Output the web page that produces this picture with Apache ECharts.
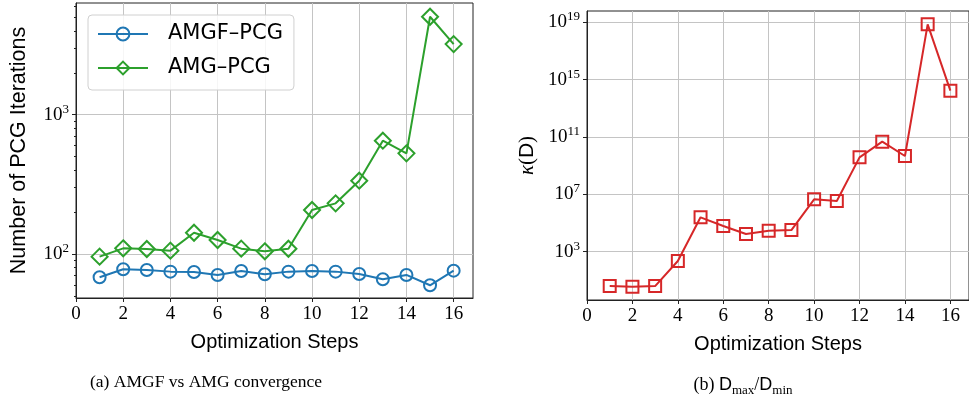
<!DOCTYPE html>
<html>
<head>
<meta charset="utf-8">
<script src="https://cdn.jsdelivr.net/npm/echarts@6/dist/echarts.min.js"></script>
<style>
html,body{margin:0;padding:0;background:#fff;}
#chart{width:969px;height:402px;}
</style>
</head>
<body>
<div id="chart"></div>
<script>
// ---- data ----
var steps = [1, 2, 3, 4, 5, 6, 7, 8, 9, 10, 11, 12, 13, 14, 15, 16];
var amgfPcg = [68, 77.6, 76.7, 74.7, 74.3, 70.7, 75.5, 71.5, 74.7, 75.5, 74.7, 71.8, 65.8, 70.7, 59.6, 75.9];
var amgPcg = [95.7, 109.8, 108.6, 105.7, 142, 126, 109.2, 104.5, 109, 207, 231, 336, 651, 528, 5050, 3214];
var kappaD = [4.0, 3.6, 4.0, 223, 2.5e5, 6.2e4, 1.7e4, 2.9e4, 3.2e4, 4.5e6, 3.4e6, 3.8e9, 4.7e10, 4.7e9, 7.2e18, 1.7e14];
var xTicks = [0, 2, 4, 6, 8, 10, 12, 14, 16];
var leftYTicks = [100, 1000];
var leftYMinor = [50, 60, 70, 80, 90, 200, 300, 400, 500, 600, 700, 800, 900, 2000, 3000, 4000, 5000, 6000];
var rightYTicks = [1e3, 1e7, 1e11, 1e15, 1e19];
var seriesNames = ['AMGF\u2013PCG', 'AMG\u2013PCG'];

var serifF = "'Liberation Serif', 'DejaVu Serif', serif";
var sansF = "'Liberation Sans', 'DejaVu Sans', sans-serif";
var legF = "'DejaVu Sans', sans-serif";
var BLUE = '#1f77b4', GREEN = '#2ca02c', RED = '#d62728';
var gridColor = '#c4c4c4';

function pairs(vals) { return steps.map(function (s, i) { return [s, vals[i]]; }); }
function powLabel(v) { return '{b|10}{s|' + Math.round(Math.log10(v)) + '}'; }
var powRich = {
  b: { fontFamily: serifF, fontSize: 19, color: '#000', lineHeight: 24, verticalAlign: 'middle' },
  s: { fontFamily: serifF, fontSize: 13, color: '#000', lineHeight: 13, verticalAlign: 'top' }
};

function xAxisDef(gi) {
  return {
    type: 'value', gridIndex: gi, min: 0, max: 16.82,
    axisLine: { show: true, onZero: false, lineStyle: { color: '#222', width: 1 } },
    axisTick: { show: true, length: 4, customValues: xTicks, lineStyle: { color: '#222', width: 1 } },
    axisLabel: { customValues: xTicks, fontFamily: serifF, fontSize: 19, color: '#000', margin: 7 },
    splitLine: { show: true, lineStyle: { color: gridColor, width: 1 } },
    name: 'Optimization Steps', nameLocation: 'middle', nameGap: 34,
    nameTextStyle: { fontFamily: sansF, fontSize: 20, color: '#000' }
  };
}

var option = {
  animation: false,
  backgroundColor: '#fff',
  grid: [
    { left: 76, top: 3, width: 397, height: 295, show: true, borderColor: '#222', borderWidth: 1, backgroundColor: 'transparent' },
    { left: 587, top: 11, width: 388, height: 289, show: true, borderColor: '#222', borderWidth: 1, backgroundColor: 'transparent' }
  ],
  xAxis: [xAxisDef(0), xAxisDef(1)],
  yAxis: [
    {
      type: 'log', gridIndex: 0, logBase: 10, min: 48.3, max: 6340,
      axisLine: { show: true, onZero: false, lineStyle: { color: '#222', width: 1 } },
      axisTick: { show: true, length: 4, customValues: leftYTicks, lineStyle: { color: '#222' } },
      axisLabel: { customValues: leftYTicks, formatter: powLabel, rich: powRich, margin: 7 },
      splitLine: { show: true, lineStyle: { color: gridColor, width: 1 } },
      minorTick: { show: false },
      name: 'Number of PCG Iterations', nameLocation: 'middle', nameGap: 46,
      nameTextStyle: { fontFamily: sansF, fontSize: 21.5, color: '#000' }
    },
    {
      type: 'log', gridIndex: 0, logBase: 10, min: 48.3, max: 6340, position: 'left',
      axisLine: { show: false },
      axisTick: { show: true, length: 2, customValues: leftYMinor, lineStyle: { color: '#222' } },
      axisLabel: { show: false },
      splitLine: { show: false }
    },
    {
      type: 'log', gridIndex: 1, logBase: 10, min: 0.428, max: 6.1e19,
      axisLine: { show: true, onZero: false, lineStyle: { color: '#222', width: 1 } },
      axisTick: { show: true, length: 4, customValues: rightYTicks, lineStyle: { color: '#222' } },
      axisLabel: { customValues: rightYTicks, formatter: powLabel, rich: powRich, margin: 7 },
      splitLine: { show: true, lineStyle: { color: gridColor, width: 1 } },
      name: '{k|\u03ba}{p|(}{d|D}{p|)}', nameLocation: 'middle', nameGap: 49,
      nameTextStyle: {
        color: '#000',
        rich: {
          k: { fontFamily: serifF, fontStyle: 'italic', fontSize: 21, color: '#000' },
          p: { fontFamily: serifF, fontSize: 21, color: '#000' },
          d: { fontFamily: sansF, fontSize: 21, color: '#000' }
        }
      }
    }
  ],
  legend: {
    data: seriesNames,
    orient: 'vertical',
    left: 88, top: 15,
    padding: [7, 11, 10, 9],
    itemWidth: 50, itemHeight: 16, itemGap: 10,
    borderColor: '#d0d0d0', borderWidth: 1, borderRadius: 4,
    backgroundColor: 'rgba(255,255,255,0.85)',
    textStyle: { fontFamily: legF, fontSize: 21, color: '#000', lineHeight: 24, padding: [0, 0, 0, 15] }
  },
  series: [
    {
      name: seriesNames[0], type: 'line', xAxisIndex: 0, yAxisIndex: 0,
      data: pairs(amgfPcg), symbol: 'circle', symbolSize: 12,
      lineStyle: { color: BLUE, width: 2 },
      itemStyle: { color: 'rgba(255,255,255,0)', borderColor: BLUE, borderWidth: 2 },
      z: 3
    },
    {
      name: seriesNames[1], type: 'line', xAxisIndex: 0, yAxisIndex: 0,
      data: pairs(amgPcg), symbol: 'diamond', symbolSize: 16,
      lineStyle: { color: GREEN, width: 2 },
      itemStyle: { color: 'rgba(255,255,255,0)', borderColor: GREEN, borderWidth: 2 },
      z: 3
    },
    {
      name: 'kappa', type: 'line', xAxisIndex: 1, yAxisIndex: 2,
      data: pairs(kappaD), symbol: 'rect', symbolSize: 12,
      lineStyle: { color: RED, width: 2 },
      itemStyle: { color: 'rgba(255,255,255,0)', borderColor: RED, borderWidth: 2 },
      z: 3
    }
  ],
  graphic: [
    {
      type: 'text', position: [206, 373],
      style: { text: '(a) AMGF vs AMG convergence', font: "17.5px 'Liberation Serif', serif", fill: '#000', x: 0, y: 0, textAlign: 'center' }
    },
    {
      type: 'text', position: [743, 373],
      style: {
        text: '{s|(b) }{d|D}{u|max}{s|/}{d|D}{u|min}', x: 0, y: 0, textAlign: 'center', fill: '#000',
        rich: {
          s: { fontFamily: serifF, fontSize: 18, lineHeight: 24, verticalAlign: 'middle' },
          d: { fontFamily: sansF, fontSize: 18, lineHeight: 24, verticalAlign: 'middle' },
          u: { fontFamily: serifF, fontSize: 13, lineHeight: 13, verticalAlign: 'bottom' }
        }
      }
    }
  ]
};

var chart = echarts.init(document.getElementById('chart'), null, { renderer: 'canvas' });
chart.setOption(option);
</script>
</body>
</html>
